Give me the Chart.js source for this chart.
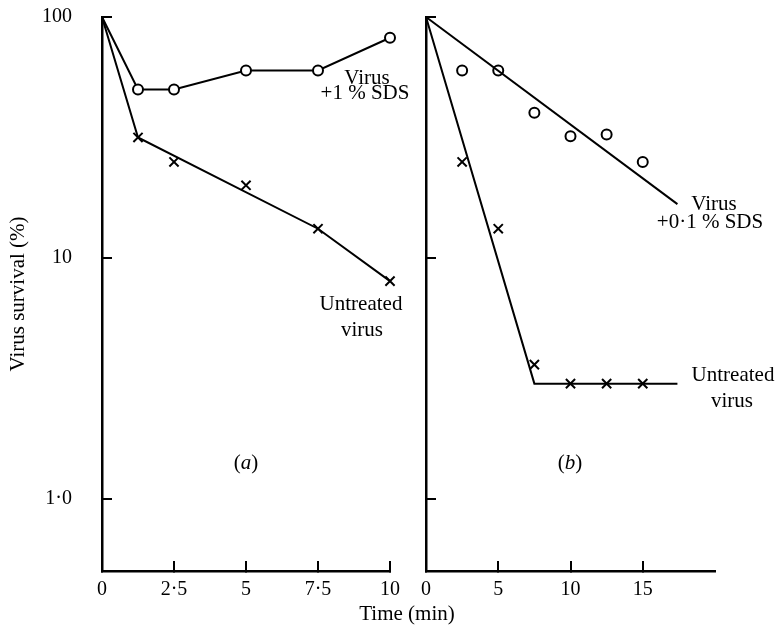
<!DOCTYPE html>
<html>
<head>
<meta charset="utf-8">
<script src="https://cdn.jsdelivr.net/npm/chart.js@4"></script>
<style>
  html, body { margin: 0; padding: 0; background: #fff; }
  #wrap { position: relative; width: 780px; height: 629px; overflow: hidden; background: #fff; }
  canvas { position: absolute; top: 0; }
  .lbl { position: absolute; font-family: 'Liberation Serif', 'Times New Roman', serif; font-size: 21px; line-height: 21px; color: #000; white-space: nowrap; transform: translateX(-50%); }
</style>
</head>
<body>
<div id="wrap">
  <canvas id="cA" width="408" height="629" style="left:0;width:408px;height:629px"></canvas>
  <canvas id="cB" width="372" height="629" style="left:408px;width:372px;height:629px"></canvas>
  <div class="lbl" style="left:367px;top:67px">Virus</div>
  <div class="lbl" style="left:365px;top:82px">+1 % SDS</div>
  <div class="lbl" style="left:361px;top:293px">Untreated</div>
  <div class="lbl" style="left:362px;top:319px">virus</div>
  <div class="lbl" style="left:246px;top:452px">(<i>a</i>)</div>
  <div class="lbl" style="left:570px;top:452px">(<i>b</i>)</div>
  <div class="lbl" style="left:714px;top:193px">Virus</div>
  <div class="lbl" style="left:710px;top:211px">+0·1 % SDS</div>
  <div class="lbl" style="left:733px;top:364px">Untreated</div>
  <div class="lbl" style="left:732px;top:390px">virus</div>
  <div class="lbl" style="left:407px;top:603px">Time (min)</div>
</div>
<script>
// ---- data ----
const timeA = [0, 1.25, 2.5, 5, 7.5, 10];
const sdsA = [100, 50, 50, 60, 60, 82];
const untreatedTimeA = [1.25, 2.5, 5, 7.5, 10];
const untreatedA = [31.6, 25, 20, 13.2, 8];
const untreatedFitTimeA = [0, 1.25, 7.5, 10];
const untreatedFitA = [100, 31.6, 13.2, 8];

const timeB = [2.5, 5, 7.5, 10, 12.5, 15];
const sdsB = [60, 60, 40, 32, 32.5, 25];
const untreatedB = [25, 13.2, 3.6, 3, 3, 3];
const sdsFitTimeB = [0, 17.4];
const sdsFitB = [100, 16.7];
const untreatedFitTimeB = [0, 7.5, 17.4];
const untreatedFitB = [100, 3, 3];

const yTickValues = [1, 10, 100];
const yTickLabels = ['1·0', '10', '100'];
const xTickValuesA = [0, 2.5, 5, 7.5, 10];
const xTickLabelsA = ['0', '2·5', '5', '7·5', '10'];
const xTickValuesB = [0, 5, 10, 15];
const xTickLabelsB = ['0', '5', '10', '15'];

const pts = (xs, ys) => xs.map((x, i) => ({ x: x, y: ys[i] }));

Chart.defaults.color = '#000';
Chart.defaults.font.family = "'Liberation Serif', 'Times New Roman', serif";

const FONT_TICK = { family: "'Liberation Serif', serif", size: 20 };
const FONT_TITLE = { family: "'Liberation Serif', serif", size: 21 };

function xScale(max, values, labels) {
  return {
    type: 'linear', min: 0, max: max, bounds: 'data',
    afterBuildTicks: s => { s.ticks = values.map(v => ({ value: v })); },
    afterFit: s => { s.height = 58; s.paddingLeft = 0; s.paddingRight = 0; },
    ticks: {
      font: FONT_TICK, padding: 17, maxRotation: 0, autoSkip: false,
      callback: (v) => { const i = values.indexOf(v); return i >= 0 ? labels[i] : ''; }
    },
    grid: { display: true, drawOnChartArea: false, drawTicks: true, tickLength: -10, color: '#000', lineWidth: 2 },
    border: { display: true, color: '#000', width: 2.5 }
  };
}

function yScale(width, showLabels, withTitle) {
  return {
    type: 'logarithmic', min: 0.5, max: 100, bounds: 'data',
    afterBuildTicks: s => { s.ticks = yTickValues.map(v => ({ value: v })); },
    afterFit: s => { s.width = width; s.paddingTop = 0; s.paddingBottom = 0; },
    ticks: {
      display: showLabels, font: FONT_TICK, padding: 40,
      callback: (v) => { const i = yTickValues.indexOf(v); return i >= 0 ? yTickLabels[i] : ''; }
    },
    grid: { display: true, drawOnChartArea: false, drawTicks: true, tickLength: -10, color: '#000', lineWidth: 2 },
    border: { display: true, color: '#000', width: 2.5 },
    title: { display: withTitle, text: 'Virus survival (%)', font: FONT_TITLE, padding: { top: 6, bottom: 0 } }
  };
}

const circleStyle = { pointStyle: 'circle', pointRadius: 5, pointBackgroundColor: '#fff', pointBorderColor: '#000', pointBorderWidth: 2 };
const crossStyle = { pointStyle: 'crossRot', pointRadius: 6.5, pointBorderColor: '#000', pointBorderWidth: 2 };

const common = {
  responsive: false, animation: false, devicePixelRatio: 1,
  plugins: { legend: { display: false }, tooltip: { enabled: false }, title: { display: false } },
  events: []
};

new Chart(document.getElementById('cA'), {
  type: 'scatter',
  data: {
    datasets: [
      Object.assign({ label: 'Virus +1 % SDS', data: pts(timeA, sdsA), showLine: true, borderColor: '#000', borderWidth: 2, clip: false },
        circleStyle, { pointRadius: timeA.map(t => t === 0 ? 0 : 5) }),
      { label: 'Untreated fit', data: pts(untreatedFitTimeA, untreatedFitA), showLine: true, borderColor: '#000', borderWidth: 2, pointRadius: 0, clip: false },
      Object.assign({ label: 'Untreated virus', data: pts(untreatedTimeA, untreatedA), showLine: false, clip: false }, crossStyle)
    ]
  },
  options: Object.assign({}, common, {
    layout: { padding: { top: 17, bottom: 0, left: 0, right: 18 } },
    scales: { x: xScale(10, xTickValuesA, xTickLabelsA), y: yScale(102, true, true) }
  })
});

new Chart(document.getElementById('cB'), {
  type: 'scatter',
  data: {
    datasets: [
      { label: 'SDS fit', data: pts(sdsFitTimeB, sdsFitB), showLine: true, borderColor: '#000', borderWidth: 2, pointRadius: 0, clip: false },
      Object.assign({ label: 'Virus +0·1 % SDS', data: pts(timeB, sdsB), showLine: false, clip: false }, circleStyle),
      { label: 'Untreated fit', data: pts(untreatedFitTimeB, untreatedFitB), showLine: true, borderColor: '#000', borderWidth: 2, pointRadius: 0, clip: false },
      Object.assign({ label: 'Untreated virus', data: pts(timeB, untreatedB), showLine: false, clip: false }, crossStyle)
    ]
  },
  options: Object.assign({}, common, {
    layout: { padding: { top: 17, bottom: 0, left: 0, right: 65 } },
    scales: { x: xScale(20, xTickValuesB, xTickLabelsB), y: yScale(18, false, false) }
  })
});
</script>
</body>
</html>
